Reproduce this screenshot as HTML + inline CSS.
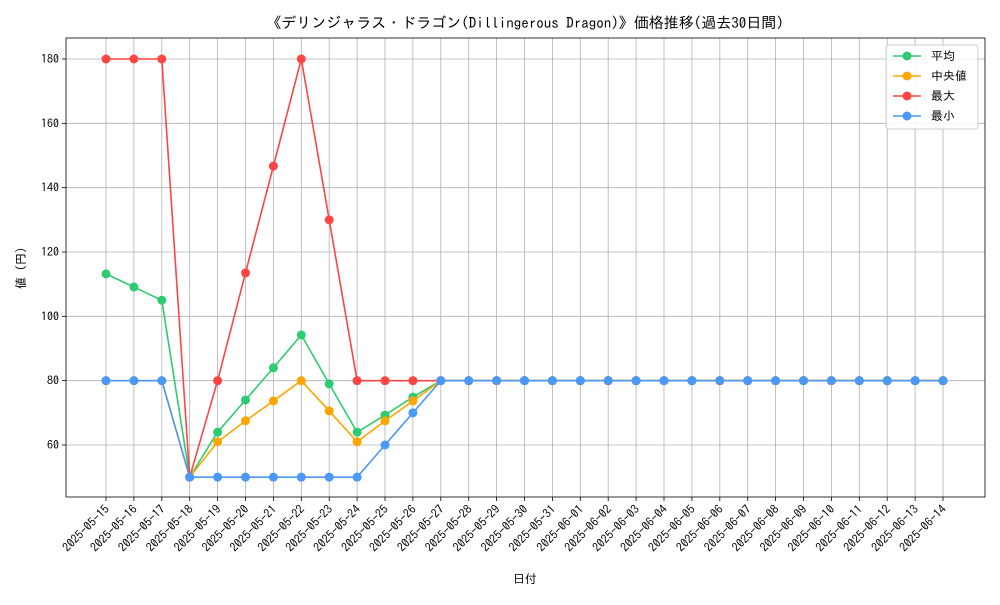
<!DOCTYPE html>
<html><head><meta charset="utf-8"><style>
body{margin:0;background:#fff;}
svg{font-family:"IPAGothic","Noto Sans CJK JP","Liberation Sans",sans-serif;}
</style></head><body>
<svg id="chart" width="1000" height="600" viewBox="0 0 1000 600" xmlns="http://www.w3.org/2000/svg">
<rect width="1000" height="600" fill="#fff"/>
<text x="525" y="28" text-anchor="middle" font-size="15" fill="#000">《デリンジャラス・ドラゴン(Dillingerous Dragon)》価格推移(過去30日間)</text>
<g id="grid"></g>
<g id="axes"></g>
<g id="series"></g>
<text x="525" y="583" text-anchor="middle" font-size="12">日付</text>
<text transform="translate(25,268) rotate(-90)" text-anchor="middle" font-size="12">値 (円)</text>
<g id="legend"></g>
</svg>
<script>
const dates=["2025-05-15","2025-05-16","2025-05-17","2025-05-18","2025-05-19","2025-05-20","2025-05-21","2025-05-22","2025-05-23","2025-05-24","2025-05-25","2025-05-26","2025-05-27","2025-05-28","2025-05-29","2025-05-30","2025-05-31","2025-06-01","2025-06-02","2025-06-03","2025-06-04","2025-06-05","2025-06-06","2025-06-07","2025-06-08","2025-06-09","2025-06-10","2025-06-11","2025-06-12","2025-06-13","2025-06-14"];
const avgValues=[113.2,109.1,105,50,64,74,84,94.2,79,64,69.3,74.9,80,80,80,80,80,80,80,80,80,80,80,80,80,80,80,80,80,80,80];
const medianValues=[80,80,80,50,61,67.5,73.7,80,70.6,61,67.5,73.7,80,80,80,80,80,80,80,80,80,80,80,80,80,80,80,80,80,80,80];
const maxValues=[180,180,180,50,80,113.5,146.7,180,130,80,80,80,80,80,80,80,80,80,80,80,80,80,80,80,80,80,80,80,80,80,80];
const minValues=[80,80,80,50,50,50,50,50,50,50,60,70,80,80,80,80,80,80,80,80,80,80,80,80,80,80,80,80,80,80,80];
const yTicks=[60,80,100,120,140,160,180];
const seriesNames=["平均","中央値","最大","最小"];

const NS="http://www.w3.org/2000/svg";
const L=66,R=985,T=38,B=497;
const x=i=>106+i*(943-106)/30;
const y=v=>445-(v-60)*(445-59)/120;
function mk(tag,attrs,parent,text){const e=document.createElementNS(NS,tag);for(const k in attrs)e.setAttribute(k,attrs[k]);if(text!==undefined)e.textContent=text;parent.appendChild(e);return e;}
const grid=document.getElementById('grid'),axes=document.getElementById('axes'),ser=document.getElementById('series'),leg=document.getElementById('legend');
dates.forEach((d,i)=>{
  const g=mk('line',{x1:x(i),x2:x(i),y1:T,y2:B,stroke:'#b0b0b0','stroke-width':0.8},grid);
  
  
  mk('line',{x1:x(i),x2:x(i),y1:B,y2:B+4,stroke:'#000','stroke-width':0.8},axes);
  const t=mk('text',{x:x(i)+4,y:B+13,'text-anchor':'end','font-size':12,transform:`rotate(-45 ${x(i)+4} ${B+13})`},axes,d);
  
  
});
yTicks.forEach(v=>{
  const g=mk('line',{x1:L,x2:R,y1:y(v),y2:y(v),stroke:'#b0b0b0','stroke-width':0.8},grid);
  
  
  mk('line',{x1:L-4,x2:L,y1:y(v),y2:y(v),stroke:'#000','stroke-width':0.8},axes);
  const t=mk('text',{x:L-7,y:y(v)+4,'text-anchor':'end','font-size':12},axes,v);
  
  
});
const frame=mk('rect',{x:L,y:T,width:R-L,height:B-T,fill:'none',stroke:'#000','stroke-width':0.8},axes);


const all=[[avgValues,'#2ecc71','average'],[medianValues,'#ffa500','median'],[maxValues,'#ff4444','max'],[minValues,'#4a98f7','min']];
all.forEach(([vals,col,nm])=>{
  const g=mk('g',{},ser);
  
  
  const p=mk('polyline',{points:vals.map((v,i)=>x(i)+','+y(v)).join(' '),fill:'none',stroke:col,'stroke-width':1.6},g);
  
  
  vals.forEach((v,i)=>{const c=mk('circle',{cx:x(i),cy:y(v),r:4.5,fill:col},g);
    
    });
});
const lb=mk('rect',{x:886,y:45,width:92,height:84,rx:3,fill:'#fff','fill-opacity':0.85,stroke:'#ccc'},leg);


all.forEach(([vals,col,nm],k)=>{
  const yy=56+k*20;
  const g=mk('g',{},leg);
  
  
  mk('line',{x1:893,x2:921,y1:yy,y2:yy,stroke:col,'stroke-width':1.6},g);
  mk('circle',{cx:907,cy:yy,r:4.5,fill:col},g);
  mk('text',{x:931,y:yy+4,'font-size':12},g,seriesNames[k]);
});
</script>
</body></html>
